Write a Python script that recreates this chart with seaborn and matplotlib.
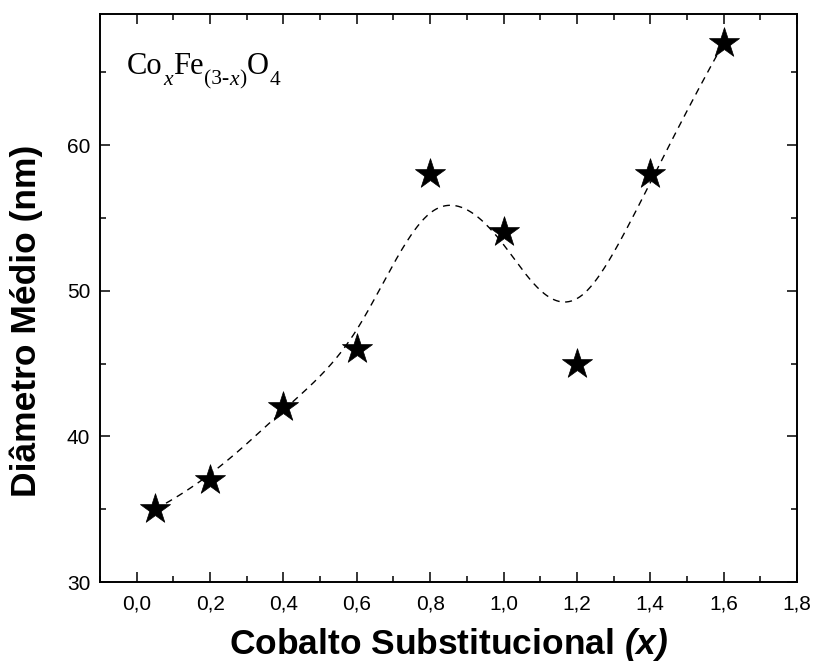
import numpy as np
import pandas as pd
import matplotlib
matplotlib.use("Agg")
import matplotlib.pyplot as plt
import matplotlib.transforms as mtransforms
import seaborn as sns
from matplotlib.ticker import MultipleLocator, FuncFormatter

# Cobalt substitution level and mean crystallite diameter
cobalto = [0.05, 0.2, 0.4, 0.6, 0.8, 1.0, 1.2, 1.4, 1.6]
diametro = [35, 37, 42, 46, 58, 54, 45, 58, 67]

x_label = "Cobalto Substitucional $\\bfit{(x)}$"
y_label = "Diâmetro Médio (nm)"
# Formula pieces: (text, is_subscript, is_italic)
formula = [("Co", False, False), ("x", True, True), ("Fe", False, False),
           ("(3-", True, False), ("x", True, True), (")", True, False),
           ("O", False, False), ("4", True, False)]

sns.set_theme(style="ticks")
plt.rcParams["font.family"] = ["Liberation Sans", "DejaVu Sans"]
plt.rcParams["mathtext.fontset"] = "custom"
plt.rcParams["mathtext.bfit"] = "Liberation Sans:bold:italic"
plt.rcParams["text.color"] = "black"
plt.rcParams["axes.labelcolor"] = "black"
plt.rcParams["xtick.color"] = "black"
plt.rcParams["ytick.color"] = "black"


def bspline(ctrl_x, ctrl_y, degree=3, n=400):
    """Clamped uniform B-spline using the data points as control points."""
    P = np.column_stack([ctrl_x, ctrl_y]).astype(float)
    m = len(P)
    inner = np.arange(1, m - degree)
    knots = np.concatenate([np.zeros(degree + 1), inner, np.full(degree + 1, m - degree)])
    t = np.linspace(0, m - degree, n)
    t[-1] -= 1e-9

    def basis(i, k, tt):
        if k == 0:
            return ((knots[i] <= tt) & (tt < knots[i + 1])).astype(float)
        out = np.zeros_like(tt)
        d1 = knots[i + k] - knots[i]
        d2 = knots[i + k + 1] - knots[i + 1]
        if d1 > 0:
            out += (tt - knots[i]) / d1 * basis(i, k - 1, tt)
        if d2 > 0:
            out += (knots[i + k + 1] - tt) / d2 * basis(i + 1, k - 1, tt)
        return out

    B = np.column_stack([basis(i, degree, t) for i in range(m)])
    curve = B @ P
    return curve[:, 0], curve[:, 1]


cx, cy = bspline(cobalto, diametro)
pontos = pd.DataFrame({"x": cobalto, "y": diametro})
curva = pd.DataFrame({"x": cx, "y": cy})

fig = plt.figure(figsize=(8.14, 6.70), dpi=100)
ax = fig.add_axes([0.1229, 0.1313, 0.9791 - 0.1229, 0.9791 - 0.1313])

sns.lineplot(data=curva, x="x", y="y", ax=ax, sort=False, color="black",
             linewidth=1.0, linestyle=(0, (5, 4)), zorder=2)
sns.scatterplot(data=pontos, x="x", y="y", ax=ax, marker="*", s=520,
                color="black", edgecolor="black", linewidth=0.5, zorder=3)

ax.set_xlim(-0.1, 1.8)
ax.set_ylim(30, 69)
ax.xaxis.set_major_locator(MultipleLocator(0.2))
ax.xaxis.set_minor_locator(MultipleLocator(0.1))
ax.yaxis.set_major_locator(MultipleLocator(10))
ax.yaxis.set_minor_locator(MultipleLocator(5))
ax.xaxis.set_major_formatter(FuncFormatter(lambda v, p: f"{v:.1f}".replace(".", ",")))
ax.yaxis.set_major_formatter(FuncFormatter(lambda v, p: f"{v:.0f}"))

ax.tick_params(which="both", direction="in", top=True, right=True,
               width=1.1, color="black", labelsize=15, pad=7)
ax.tick_params(which="major", length=7)
ax.tick_params(which="minor", length=4)
ax.tick_params(axis="x", which="major", pad=9)
for sp in ax.spines.values():
    sp.set_linewidth(1.4)
    sp.set_color("black")

ax.set_xlabel(x_label, fontsize=25.5, fontweight="bold", labelpad=9)
ax.set_ylabel(y_label, fontsize=25.5, fontweight="bold")
ax.yaxis.set_label_coords(-0.082, 0.46)

# Chemical formula with Origin-style subscripts, laid out piece by piece
renderer = fig.canvas.get_renderer()
dx = 0.0
for txt, sub, ital in formula:
    size = 15.5 if sub else 22
    dy = -8.0 if sub else 0.0
    trans = mtransforms.offset_copy(ax.transData, fig=fig, x=dx, y=dy, units="points")
    t = ax.text(-0.027, 64.9, txt, fontsize=size, family="Liberation Serif",
                style="italic" if ital else "normal", color="black",
                ha="left", va="baseline", transform=trans)
    w = t.get_window_extent(renderer=renderer).width
    dx += w * 72.0 / fig.dpi + 0.3

fig.savefig("out.png", dpi=100)
